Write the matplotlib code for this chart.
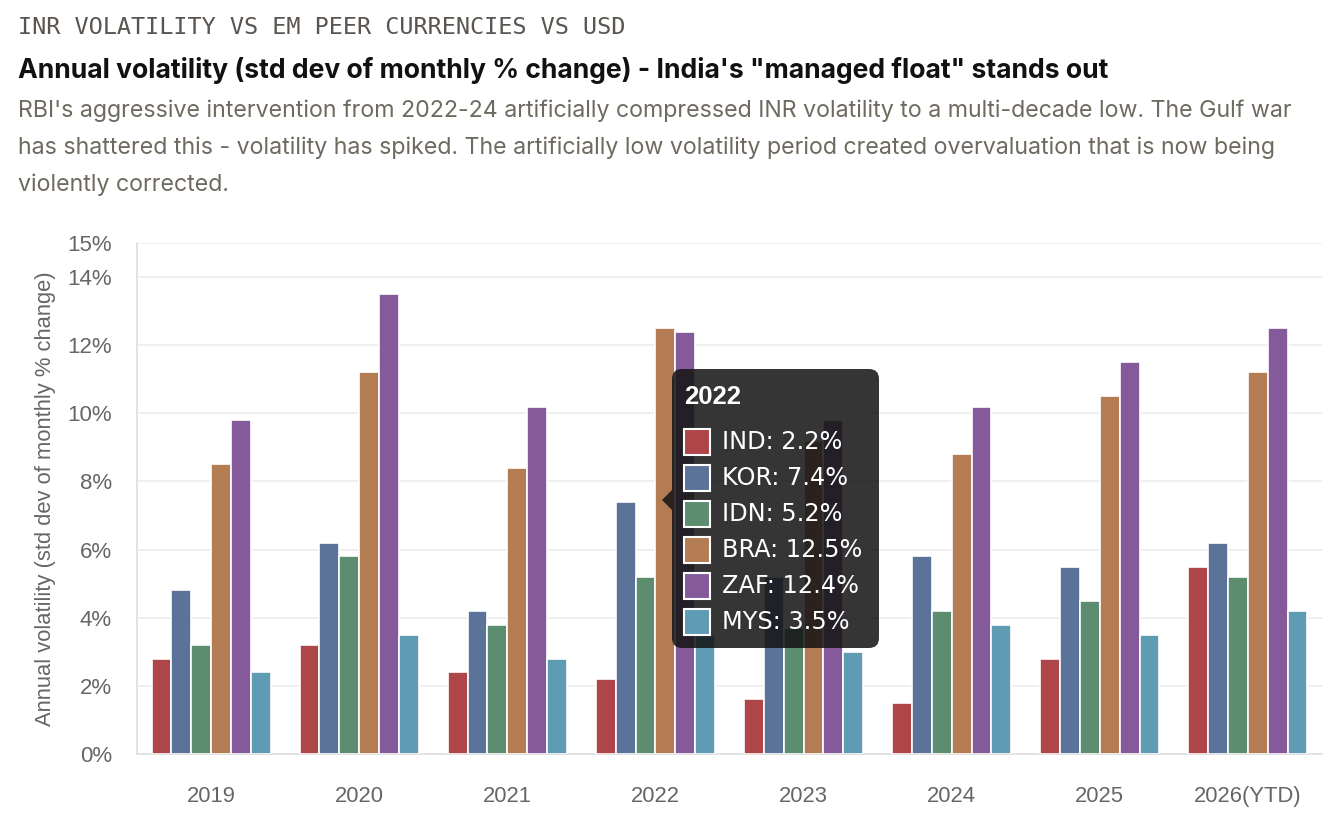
import matplotlib.pyplot as plt
import numpy as np
from matplotlib.patches import FancyBboxPatch, Polygon, Rectangle

# data
years = ["2019", "2020", "2021", "2022", "2023", "2024", "2025", "2026(YTD)"]
countries = ["IND", "KOR", "IDN", "BRA", "ZAF", "MYS"]
ind = [2.8, 3.2, 2.4, 2.2, 1.6, 1.5, 2.8, 5.5]
kor = [4.8, 6.2, 4.2, 7.4, 5.2, 5.8, 5.5, 6.2]
idn = [3.2, 5.8, 3.8, 5.2, 3.7, 4.2, 4.5, 5.2]
bra = [8.5, 11.2, 8.4, 12.5, 9.2, 8.8, 10.5, 11.2]
zaf = [9.8, 13.5, 10.2, 12.4, 9.8, 10.2, 11.5, 12.5]
mys = [2.4, 3.5, 2.8, 3.5, 3.0, 3.8, 3.5, 4.2]
yticks = [0, 2, 4, 6, 8, 10, 12, 14, 15]
tooltip_year = "2022"

series = [ind, kor, idn, bra, zaf, mys]
colors = ["#ae4548", "#5b7299", "#5c8d6f", "#b47c53", "#845a9b", "#5f9bb2"]

fig = plt.figure(figsize=(13.28, 8.32), dpi=100)
fig.patch.set_facecolor("white")

# header texts
fig.text(18 / 1328, 1 - 28 / 832, "INR VOLATILITY VS EM PEER CURRENCIES VS USD",
         family="DejaVu Sans Mono", fontsize=16.9, color="#5a5550", va="center", ha="left")
fig.text(18 / 1328, 1 - 70 / 832,
         "Annual volatility (std dev of monthly % change) - India's \"managed float\" stands out",
         family="Inter", fontweight="bold", fontsize=19.1, color="#111111", va="center", ha="left")
sub_lines = [
    "RBI's aggressive intervention from 2022-24 artificially compressed INR volatility to a multi-decade low. The Gulf war",
    "has shattered this - volatility has spiked. The artificially low volatility period created overvaluation that is now being",
    "violently corrected.",
]
for i, line in enumerate(sub_lines):
    fig.text(18 / 1328, 1 - (111 + 37 * i) / 832, line,
             family="Inter", fontsize=16.7, color="#6e6a60", va="center", ha="left")

ax = fig.add_axes([137 / 1328, 78 / 832, 1185 / 1328, 511 / 832])
x = np.arange(len(years))
w = 0.134
for i, (vals, c) in enumerate(zip(series, colors)):
    ax.bar(x + (i - 2.5) * w, vals, width=w, color=c, edgecolor="white",
           linewidth=1.2, zorder=3)

ax.set_xlim(-0.5, len(years) - 0.5)
ax.set_ylim(0, 15)
ax.set_yticks(yticks)
ax.set_yticklabels([f"{t}%" for t in yticks], family="Liberation Sans",
                   fontsize=16, color="#666666")
ax.set_xticks(x)
ax.set_xticklabels(years, family="Liberation Sans", fontsize=15.8, color="#666666")
ax.tick_params(axis="both", length=0)
ax.tick_params(axis="y", pad=18)
ax.tick_params(axis="x", pad=23)
ax.grid(axis="y", color="#ececec", linewidth=1.2, zorder=0)
ax.set_axisbelow(True)
for s in ["top", "right"]:
    ax.spines[s].set_visible(False)
for s in ["left", "bottom"]:
    ax.spines[s].set_color("#dddddd")
    ax.spines[s].set_linewidth(1.2)
ax.set_ylabel("Annual volatility (std dev of monthly % change)", family="Liberation Sans",
              fontsize=15.8, color="#666666", labelpad=8)

# tooltip overlay (pixel coords via inches, dpi=100)
tr = fig.dpi_scale_trans
box = FancyBboxPatch((6.72, 1.84), 2.07, 2.79, boxstyle="round,pad=0,rounding_size=0.1",
                     transform=tr, facecolor="#141414", alpha=0.86, edgecolor="none", zorder=10)
fig.add_artist(box)
arrow = Polygon([[6.72, 3.42], [6.62, 3.32], [6.72, 3.22]], closed=True, transform=tr,
                facecolor="#141414", alpha=0.86, edgecolor="none", zorder=10)
fig.add_artist(arrow)
ti = years.index(tooltip_year)
fig.text(6.84, 8.32 - 3.97, tooltip_year, transform=tr, color="white", fontweight="bold",
         family="Liberation Sans", fontsize=18.5, va="center", ha="left", zorder=11)
for i, (name, vals, c) in enumerate(zip(countries, series, colors)):
    yc = 8.32 - (4.42 + 0.36 * i)
    sq = Rectangle((6.84, yc - 0.13), 0.26, 0.26, transform=tr, facecolor=c,
                   edgecolor="white", linewidth=1.5, zorder=11)
    fig.add_artist(sq)
    fig.text(7.22, yc, f"{name}: {vals[ti]}%", transform=tr, color="white",
             family="DejaVu Sans", fontsize=17.3, va="center", ha="left", zorder=11)

fig.savefig("out.png", dpi=100)
